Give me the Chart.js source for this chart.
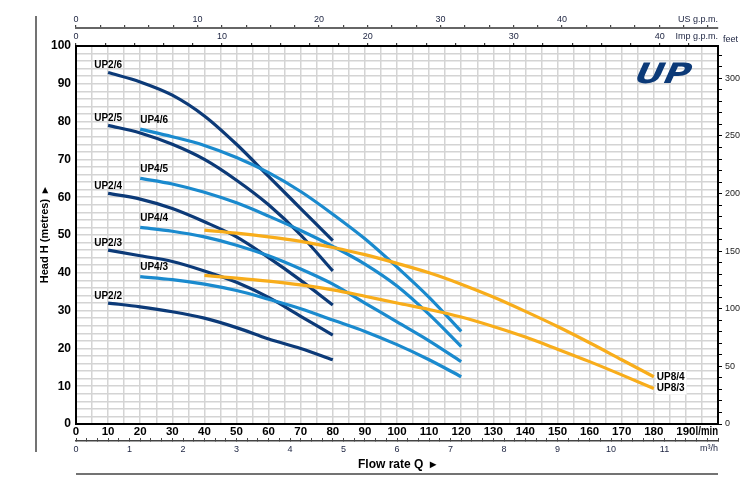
<!DOCTYPE html>
<html>
<head>
<meta charset="utf-8">
<script src="https://cdn.jsdelivr.net/npm/chart.js@4.4.1/dist/chart.umd.min.js"></script>
<style>
  html, body { margin: 0; padding: 0; background: #fff; }
</style>
</head>
<body>
<canvas id="pump-curves" width="750" height="497"></canvas>
<script>
// flow in l/min, head in metres
const flowUP2 = [10, 20, 30, 40, 50, 60, 70, 80];
const headUP2_2 = [32, 31, 29.7, 28, 25.5, 22.5, 20, 17];
const headUP2_3 = [46, 44.5, 43, 40.5, 37.5, 33.5, 28.5, 23.5];
const headUP2_4 = [61, 59.5, 57, 53.5, 49.5, 44, 38, 31.5];
const headUP2_5 = [79, 77, 74, 70, 64.5, 58, 50, 40.5];
const headUP2_6 = [93, 90.5, 87, 81.5, 74, 65.5, 57, 48.5];

const flowUP4 = [20, 30, 40, 50, 60, 70, 80, 90, 100, 110, 120];
const headUP4_3 = [39, 38.2, 37, 35.3, 33, 30.5, 27.5, 24.5, 21, 17, 12.5];
const headUP4_4 = [52, 51, 49.5, 47.3, 44.5, 41, 37, 32, 27, 22, 16.5];
const headUP4_5 = [65, 63.5, 61.3, 58.5, 55, 51.2, 47, 42.3, 36.5, 29, 20.5];
const headUP4_6 = [78, 76, 73.7, 70.5, 66.5, 61.5, 55.5, 49, 41.5, 33.5, 24.5];

const flowUP8 = [40, 50, 60, 70, 80, 90, 100, 110, 120, 130, 140, 150, 160, 170, 180];
const headUP8_3 = [39.3, 38.6, 37.8, 36.8, 35.5, 33.8, 32, 30.3, 28.3, 25.8, 23, 19.8, 16.5, 13, 9.4];
const headUP8_4 = [51.3, 50.5, 49.5, 48.3, 46.7, 44.8, 42.5, 40, 37, 33.6, 29.8, 25.8, 21.5, 17, 12.5];

// axis ranges and unit conversions
const flowMax = 200;          // l/min
const headMax = 100;          // m
const LPM_PER_USGPM = 3.78541;
const LPM_PER_IMPGPM = 4.54609;
const LPM_PER_M3H = 1000 / 60;
const FT_PER_M = 3.28084;

const NAVY = '#0c3a78';
const BLUE = '#1a8ace';
const ORANGE = '#f8ad1b';
const FONT = '"Liberation Sans Narrow", "Liberation Sans", Arial, sans-serif';

Chart.defaults.font.family = FONT;
Chart.defaults.color = '#000';

function points(xs, ys) {
  return xs.map((x, i) => ({ x: x, y: ys[i] }));
}

// tag says where the curve name goes: above the first point (centred or
// left-aligned) or right of the last point
function curve(label, xs, ys, color, tag) {
  return {
    label: label,
    data: points(xs, ys),
    borderColor: color,
    borderWidth: 3.2,
    pointRadius: 0,
    fill: false,
    cubicInterpolationMode: 'monotone',
    tag: tag,
  };
}

const datasets = [
  curve('UP8/4', flowUP8, headUP8_4, ORANGE, 'end'),
  curve('UP8/3', flowUP8, headUP8_3, ORANGE, 'end'),
  curve('UP4/6', flowUP4, headUP4_6, BLUE, 'left'),
  curve('UP4/5', flowUP4, headUP4_5, BLUE, 'left'),
  curve('UP4/4', flowUP4, headUP4_4, BLUE, 'left'),
  curve('UP4/3', flowUP4, headUP4_3, BLUE, 'left'),
  curve('UP2/6', flowUP2, headUP2_6, NAVY, 'center'),
  curve('UP2/5', flowUP2, headUP2_5, NAVY, 'center'),
  curve('UP2/4', flowUP2, headUP2_4, NAVY, 'center'),
  curve('UP2/3', flowUP2, headUP2_3, NAVY, 'center'),
  curve('UP2/2', flowUP2, headUP2_2, NAVY, 'center'),
];

const isWhole = (v) => Math.abs(v - Math.round(v)) < 1e-6;

// curve names, unit captions, logo and the frame lines
const decorations = {
  id: 'decorations',
  afterDraw(chart) {
    const ctx = chart.ctx;
    const area = chart.chartArea;
    const sx = chart.scales.x;
    const sy = chart.scales.y;

    ctx.save();
    ctx.font = 'bold 10px ' + FONT;
    chart.data.datasets.forEach((ds) => {
      if (ds.tag === 'end') {
        const p = ds.data[ds.data.length - 1];
        const px = sx.getPixelForValue(p.x) + 2;
        const py = sy.getPixelForValue(p.y);
        const w = ctx.measureText(ds.label).width;
        ctx.fillStyle = '#fff';
        ctx.fillRect(px, py - 6, w + 3, 12);
        ctx.fillStyle = '#000';
        ctx.textAlign = 'left';
        ctx.textBaseline = 'middle';
        ctx.fillText(ds.label, px + 1, py);
      } else {
        const p = ds.data[0];
        ctx.fillStyle = '#000';
        ctx.textAlign = ds.tag;
        ctx.textBaseline = 'bottom';
        const dy = ds.tag === 'left' ? 4 : 2;
        ctx.fillText(ds.label, sx.getPixelForValue(p.x), sy.getPixelForValue(p.y) - dy);
      }
    });

    // unit captions
    ctx.fillStyle = '#1c2340';
    ctx.font = '9px ' + FONT;
    ctx.textAlign = 'right';
    ctx.textBaseline = 'middle';
    ctx.fillText('US g.p.m.', area.right, chart.scales.xUS.bottom - 8);
    ctx.fillText('Imp g.p.m.', area.right, chart.scales.xImp.bottom - 9);
    ctx.fillText('m\u00B3/h', area.right, chart.scales.xM3.top + 8);
    ctx.textAlign = 'left';
    ctx.fillText('feet', area.right + 5, area.top - 6);

    // squeezed a little so it sits clear of the 190 label
    ctx.save();
    ctx.fillStyle = '#000';
    ctx.font = 'bold 12px ' + FONT;
    ctx.textAlign = 'right';
    ctx.translate(area.right, sx.top + 8);
    ctx.scale(0.8, 1);
    ctx.fillText('l/min', 0, 0);
    ctx.restore();

    // logo
    ctx.save();
    ctx.fillStyle = NAVY;
    ctx.font = 'bold 28px "DejaVu Sans", sans-serif';
    ctx.translate(area.right - 59, area.top + 37);
    ctx.transform(1.28, 0, -0.45, 1, 0, 0);
    ctx.textAlign = 'center';
    ctx.textBaseline = 'alphabetic';
    ctx.fillText('UP', 0, 0);
    ctx.restore();

    // frame lines
    ctx.strokeStyle = '#444';
    ctx.lineWidth = 1.5;
    ctx.beginPath();
    ctx.moveTo(36, 16);
    ctx.lineTo(36, 452);
    ctx.stroke();
    ctx.beginPath();
    ctx.moveTo(area.left, 474);
    ctx.lineTo(area.right, 474);
    ctx.stroke();
    ctx.restore();
  },
};

new Chart(document.getElementById('pump-curves'), {
  type: 'line',
  data: { datasets: datasets },
  plugins: [decorations],
  options: {
    responsive: false,
    animation: false,
    layout: { padding: { left: 38, right: 0, top: 10, bottom: 24 } },
    plugins: {
      legend: { display: false },
      tooltip: { enabled: false },
    },
    scales: {
      x: {
        type: 'linear',
        position: 'bottom',
        weight: 0,
        min: 0,
        max: flowMax,
        afterFit: (s) => { s.height = 17; },
        border: { color: '#000', width: 2 },
        grid: { color: '#d4d4d4', lineWidth: 1.5, drawTicks: false },
        ticks: {
          stepSize: 5,
          maxTicksLimit: 1000,
          autoSkip: false,
          maxRotation: 0,
          includeBounds: false,
          padding: 1,
          color: '#000',
          font: { size: 11.5, weight: 'bold' },
          callback: (v) => (v % 10 === 0 && v < flowMax ? v : ''),
        },
      },
      xM3: {
        type: 'linear',
        position: 'bottom',
        weight: 1,
        min: 0,
        max: flowMax / LPM_PER_M3H,
        afterFit: (s) => { s.height = 32; },
        border: { color: '#444', width: 1.5 },
        grid: { drawOnChartArea: false, tickLength: -3, color: '#444', lineWidth: 1 },
        ticks: {
          stepSize: 0.2,
          maxTicksLimit: 1000,
          autoSkip: false,
          maxRotation: 0,
          includeBounds: false,
          padding: 6,
          color: '#1c2340',
          font: { size: 9 },
          callback: (v) => (isWhole(v) && Math.round(v) < 12 ? Math.round(v) : ''),
        },
        title: {
          display: true,
          text: 'Flow rate Q  \u25B8',
          color: '#000',
          font: { size: 12, weight: 'bold' },
          padding: { top: 0, bottom: 1 },
        },
      },
      xImp: {
        type: 'linear',
        position: 'top',
        weight: 0,
        min: 0,
        max: flowMax / LPM_PER_IMPGPM,
        afterFit: (s) => { s.height = 18; },
        border: { color: '#000', width: 2 },
        grid: { drawOnChartArea: false, tickLength: 3, color: '#333', lineWidth: 1.2 },
        ticks: {
          stepSize: 2,
          maxTicksLimit: 1000,
          autoSkip: false,
          maxRotation: 0,
          includeBounds: false,
          padding: 1.5,
          color: '#1c2340',
          font: { size: 9 },
          callback: (v) => (v % 10 === 0 && v < 44 ? v : ''),
        },
      },
      xUS: {
        type: 'linear',
        position: 'top',
        weight: 1,
        min: 0,
        max: flowMax / LPM_PER_USGPM,
        afterFit: (s) => { s.height = 18; },
        border: { color: '#666', width: 2 },
        grid: { drawOnChartArea: false, tickLength: 3, color: '#444', lineWidth: 1.2 },
        ticks: {
          stepSize: 2,
          maxTicksLimit: 1000,
          autoSkip: false,
          maxRotation: 0,
          includeBounds: false,
          padding: 0,
          color: '#1c2340',
          font: { size: 9 },
          callback: (v) => (v % 10 === 0 && v < 50 ? v : ''),
        },
      },
      y: {
        type: 'linear',
        position: 'left',
        min: 0,
        max: headMax,
        afterFit: (s) => { s.width = 38; },
        border: { color: '#000', width: 2 },
        grid: { color: '#d4d4d4', lineWidth: 1.5, drawTicks: false },
        ticks: {
          stepSize: 2,
          maxTicksLimit: 1000,
          autoSkip: false,
          padding: 5,
          color: '#000',
          font: { size: 12, weight: 'bold' },
          callback: (v) => (v % 10 === 0 ? v : ''),
        },
        title: {
          display: true,
          text: 'Head H (metres)  \u25B8',
          color: '#000',
          font: { size: 11, weight: 'bold' },
          padding: { top: 0, bottom: 0 },
        },
      },
      yFeet: {
        type: 'linear',
        position: 'right',
        min: 0,
        max: headMax * FT_PER_M,
        afterFit: (s) => { s.width = 32; },
        border: { color: '#000', width: 2 },
        grid: { drawOnChartArea: false, tickLength: 4, color: '#000', lineWidth: 1 },
        ticks: {
          stepSize: 10,
          maxTicksLimit: 1000,
          autoSkip: false,
          includeBounds: false,
          padding: 3,
          color: '#222',
          font: { size: 9 },
          callback: (v) => (v % 50 === 0 ? v : ''),
        },
      },
    },
  },
});
</script>
</body>
</html>
